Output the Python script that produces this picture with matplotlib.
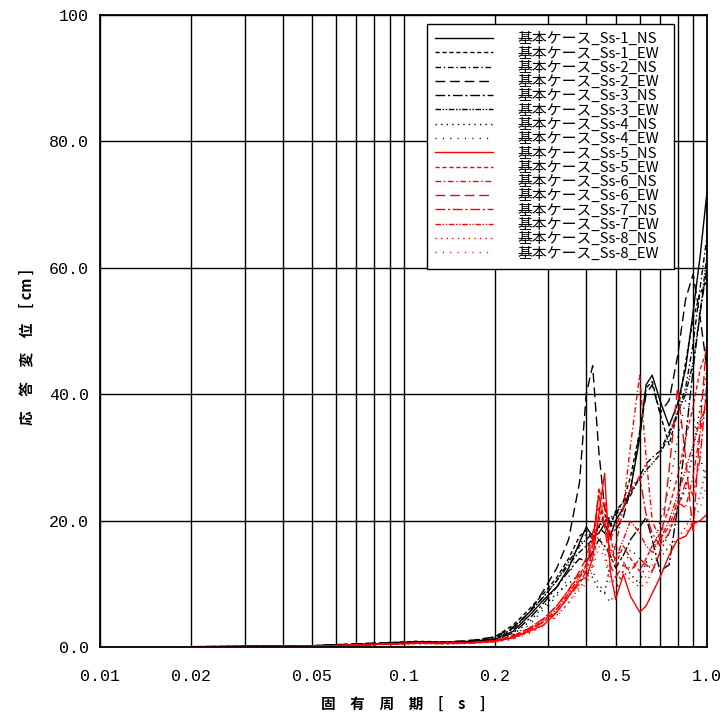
import matplotlib
matplotlib.use("Agg")
import matplotlib.pyplot as plt

plt.rcParams['font.family'] = ['Noto Sans CJK JP', 'DejaVu Sans']

# ---- data ----
periods = [0.02, 0.03, 0.05, 0.07, 0.09, 0.11, 0.14, 0.17, 0.20, 0.23, 0.26, 0.29, 0.32,
           0.35, 0.38, 0.40, 0.42, 0.44, 0.46, 0.48, 0.50, 0.53, 0.56, 0.60, 0.63, 0.66,
           0.70, 0.75, 0.80, 0.85, 0.90, 0.95, 1.00]

s1_ns = [0.05,0.1,0.2,0.4,0.6,0.8,0.7,0.9,1.2,2.5,5.0,7.5,9.5,12.5,16.5,19.0,17.5,18.0,19.5,17.5,20.0,22.0,25.0,33.0,41.5,43.0,39.0,35.0,38.5,44.0,53.0,62.0,72.0]
s1_ew = [0.05,0.1,0.2,0.5,0.7,0.9,0.8,1.0,1.6,3.5,6.0,8.5,11.0,14.0,17.5,18.5,17.0,19.0,21.0,19.0,21.5,23.0,27.0,34.0,41.0,42.0,37.0,32.0,37.0,45.0,52.0,56.0,58.0]
s2_ns = [0.04,0.08,0.2,0.4,0.6,0.7,0.7,0.9,1.3,2.8,5.5,8.0,10.5,13.0,15.0,16.0,17.0,19.0,18.0,20.0,21.0,22.0,24.0,27.0,29.0,30.0,31.0,34.0,37.0,41.0,48.0,57.0,65.0]
s2_ew = [0.05,0.1,0.2,0.5,0.7,0.8,0.8,1.1,1.6,3.2,5.5,9.0,12.5,17.0,26.0,40.0,44.5,31.0,22.0,19.5,18.5,20.5,25.0,34.0,40.0,41.5,37.0,39.0,46.0,55.0,59.0,52.0,44.0]
s3_ns = [0.04,0.08,0.15,0.4,0.5,0.7,0.6,0.8,1.2,2.2,4.5,7.0,9.5,12.0,14.0,13.5,15.0,17.0,16.0,14.5,12.5,14.5,17.0,19.0,20.5,17.0,12.0,13.0,22.0,33.0,44.0,53.0,60.0]
s3_ew = [0.04,0.08,0.2,0.4,0.6,0.7,0.7,0.9,1.4,3.0,5.5,8.0,10.5,13.5,16.0,17.0,18.0,19.0,20.0,20.5,21.0,23.0,24.5,26.5,28.0,29.0,30.5,33.5,37.0,40.0,45.0,53.0,62.0]
s4_ns = [0.03,0.06,0.15,0.3,0.5,0.6,0.6,0.8,1.1,2.0,4.0,6.5,8.5,10.0,11.5,12.0,11.0,9.0,8.5,13.0,16.0,13.5,11.5,10.0,13.5,12.0,15.0,18.0,22.0,25.0,31.0,38.0,44.0]
s4_ew = [0.03,0.06,0.15,0.3,0.5,0.6,0.6,0.7,1.0,1.8,3.5,6.0,8.0,11.0,16.0,18.0,12.0,10.0,8.5,7.0,9.0,12.0,15.5,14.0,12.5,14.0,20.0,25.0,33.0,39.0,37.0,30.0,26.0]
s5_ns = [0.03,0.05,0.1,0.3,0.5,0.6,0.6,0.7,0.9,1.5,2.5,3.5,5.5,8.0,10.5,11.0,14.0,21.0,27.5,12.0,7.5,11.5,8.0,5.5,6.5,8.5,11.0,14.5,17.0,17.5,19.5,20.0,21.0]
s5_ew = [0.03,0.05,0.1,0.3,0.5,0.6,0.6,0.7,1.0,1.8,3.0,4.5,6.5,9.0,11.5,13.0,16.0,20.0,23.0,18.0,13.0,16.0,14.0,12.0,14.0,16.0,18.0,22.0,27.0,33.0,38.0,44.0,47.0]
s6_ns = [0.03,0.05,0.1,0.3,0.5,0.6,0.6,0.7,1.0,1.6,2.8,4.0,6.0,8.5,11.0,12.5,17.0,24.0,20.0,15.0,16.0,22.0,32.0,43.0,30.0,20.0,17.0,19.0,23.0,22.0,27.0,34.0,40.0]
s6_ew = [0.03,0.05,0.1,0.3,0.5,0.6,0.6,0.7,1.0,1.7,3.0,4.5,6.5,9.0,12.0,14.0,18.0,22.0,19.0,13.0,11.0,13.0,12.0,14.0,13.0,12.0,15.0,28.0,41.0,30.0,18.0,35.0,49.0]
s7_ns = [0.03,0.05,0.1,0.3,0.5,0.6,0.5,0.7,0.9,1.5,2.6,4.0,5.5,8.0,10.0,12.0,15.0,25.0,22.0,17.0,19.0,22.0,25.0,27.0,21.0,18.0,16.0,18.0,22.0,26.0,24.0,30.0,42.0]
s7_ew = [0.03,0.05,0.1,0.3,0.5,0.6,0.6,0.7,0.9,1.5,2.7,4.2,6.0,8.5,11.0,13.0,17.0,24.0,19.0,15.0,14.0,17.0,20.0,18.0,16.0,15.0,17.0,20.0,24.0,28.0,32.0,36.0,38.0]
s8_ns = [0.02,0.04,0.1,0.3,0.4,0.5,0.5,0.6,0.8,1.3,2.3,3.5,5.0,7.0,9.5,10.5,13.0,18.0,15.0,11.0,10.0,12.0,10.5,9.5,10.0,12.0,14.0,16.0,17.0,19.0,21.0,24.0,29.0]
s8_ew = [0.02,0.04,0.1,0.3,0.4,0.5,0.5,0.6,0.8,1.2,2.2,3.3,4.8,7.0,9.0,10.0,12.0,16.0,14.0,10.0,9.0,11.0,13.0,12.0,11.0,13.0,15.0,15.5,16.0,18.0,20.0,22.0,26.0]

labels = ['基本ケース_Ss-1_NS', '基本ケース_Ss-1_EW', '基本ケース_Ss-2_NS', '基本ケース_Ss-2_EW',
          '基本ケース_Ss-3_NS', '基本ケース_Ss-3_EW', '基本ケース_Ss-4_NS', '基本ケース_Ss-4_EW',
          '基本ケース_Ss-5_NS', '基本ケース_Ss-5_EW', '基本ケース_Ss-6_NS', '基本ケース_Ss-6_EW',
          '基本ケース_Ss-7_NS', '基本ケース_Ss-7_EW', '基本ケース_Ss-8_NS', '基本ケース_Ss-8_EW']
series = [s1_ns, s1_ew, s2_ns, s2_ew, s3_ns, s3_ew, s4_ns, s4_ew,
          s5_ns, s5_ew, s6_ns, s6_ew, s7_ns, s7_ew, s8_ns, s8_ew]

xticks = [0.01, 0.02, 0.05, 0.1, 0.2, 0.5, 1.0]
xticklabels = ['0.01', '0.02', '0.05', '0.1', '0.2', '0.5', '1.0']
yticks = [0, 20, 40, 60, 80, 100]
yticklabels = ['0.0', '20.0', '40.0', '60.0', '80.0', '100']

# ---- styles ----
styles = ['-', (0, (3, 2)), (0, (4, 2, 1, 2)), (0, (7, 3.5)),
          (0, (7, 2, 1.5, 2)), (0, (4, 1.2, 1, 1.2, 1, 1.2)), (0, (1, 3)), (0, (0.8, 4.5))]
colors = ['black'] * 8 + ['#ff0000'] * 8

fig = plt.figure(figsize=(7.23, 7.20), dpi=100)
ax = fig.add_axes([100/723, 73/720, 607/723, 632/720])

for i, (vals, lab) in enumerate(zip(series, labels)):
    ax.plot(periods, vals, color=colors[i], linestyle=styles[i % 8], lw=1.0, label=lab)

mono = ['Liberation Mono', 'DejaVu Sans Mono']
ax.set_xscale('log')
ax.set_xlim(0.01, 1.0)
ax.set_ylim(0, 100)
ax.set_xticks(xticks)
ax.set_xticklabels(xticklabels, family=mono, fontsize=12)
minor = [k * 0.01 for k in range(2, 10)] + [k * 0.1 for k in range(2, 10)]
ax.set_xticks(minor, minor=True)
ax.set_xticklabels([], minor=True)
ax.set_yticks(yticks)
ax.set_yticklabels(yticklabels, family=mono, fontsize=12)
ax.grid(True, which='both', axis='x', color='black', lw=1.0)
ax.grid(True, which='major', axis='y', color='black', lw=1.0)
ax.tick_params(which='both', length=0, colors='black')
ax.tick_params(axis='x', pad=16)
ax.tick_params(axis='y', pad=8)
for sp in ax.spines.values():
    sp.set_linewidth(1.3)

ax.set_xlabel('固　有　周　期　[　s　]', fontsize=10.5, fontweight='bold')
ax.xaxis.set_label_coords(0.5, -0.078)
ax.set_ylabel('応　答　変　位　[ cm ]', fontsize=10.5, fontweight='bold')
ax.yaxis.set_label_coords(-0.108, 0.475)

leg = ax.legend(loc='upper left', bbox_to_anchor=(0.539, 0.6, 0.407, 0.386), mode='expand',
                frameon=True, fancybox=False, edgecolor='black', framealpha=1,
                prop={'family': ['Noto Sans CJK JP'], 'size': 10.7},
                handlelength=3.9, handletextpad=1.6, labelspacing=0.01, borderpad=0.55,
                borderaxespad=0)
leg.get_frame().set_linewidth(1.0)

fig.savefig('out.png', dpi=100)
